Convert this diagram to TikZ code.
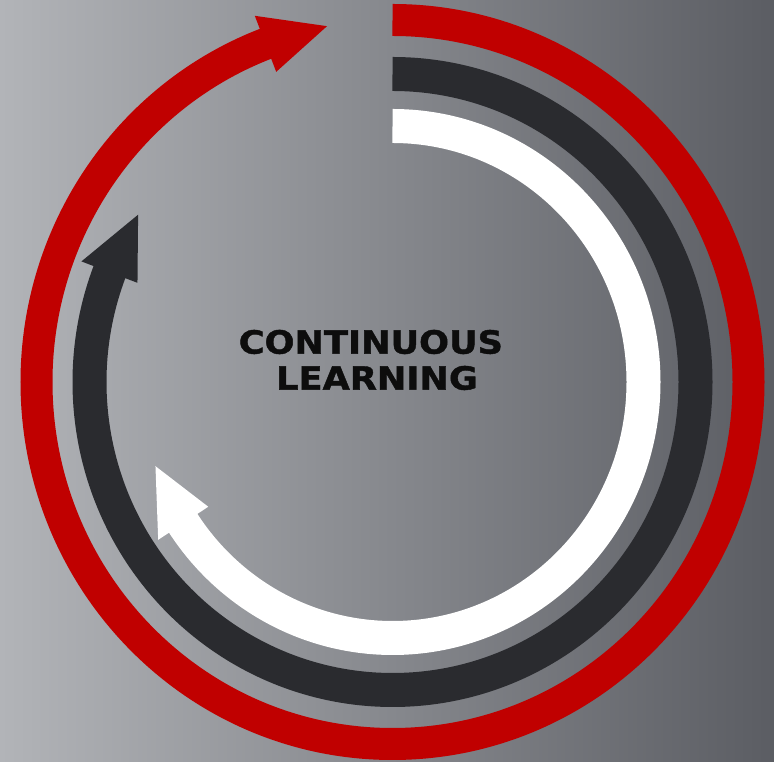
\documentclass[tikz,border=0pt]{standalone}
\usepackage{fontspec}
\setmainfont{DejaVu Sans}[BoldFeatures={FakeBold=1.2}]
\usetikzlibrary{calc}
\definecolor{ringred}{HTML}{C00000}
\definecolor{ringdark}{HTML}{2A2B2F}
\definecolor{bgleft}{HTML}{B2B4B8}
\definecolor{bgmid}{HTML}{8E9095}
\definecolor{bgright}{HTML}{5B5D63}
\def\ringarc[#1](#2)(#3:#4:#5:#6){\draw[#1] ($(#2)+({#5*cos(#3)},{#6*sin(#3)})$) arc[start angle=#3, end angle=#4, x radius=#5pt, y radius=#6pt];}
\def\ringhead[#1](#2)(#3:#4:#5:#6){\fill[#1] ($(#2)+({(#5+30)*cos(#3)},{(#6+30)*sin(#3)})$) -- ($(#2)+({#5*cos(#4)},{#6*sin(#4)})$) -- ($(#2)+({(#5-30)*cos(#3)},{(#6-30)*sin(#3)})$) -- cycle;}

\begin{document}
\begin{tikzpicture}[x=1pt, y=1pt]
			%%%%% START %%%%%
			
			\useasboundingbox (0, 0) rectangle (774, 762);
			\shade[left color=bgleft, middle color=bgmid, right color=bgright] (0, 0) rectangle (774, 762);
			
			\coordinate (C) at (392.5, 380);
			
			% outer ring
			\ringarc[line width=32pt, color=ringred](C)(90:-250:356:362);
			\ringhead[ringred](C)(-249.1:-259.4:356:362);
			
			% middle ring
			\ringarc[line width=34pt, color=ringdark](C)(90:-202:303:308);
			\ringhead[ringdark](C)(-200.9:-212.9:303:308);
			
			% inner ring
			\ringarc[line width=34pt, color=white](C)(90:-147.5:251:256);
			\ringhead[white](C)(-146.5:-160.8:251:256);
			
			\node[font=\bfseries\fontsize{32}{36}\selectfont, align=center, xscale=1.1, transform shape, text=black!95] (title) at (377, 402) {CONTINUOUS\hphantom{~}\\LEARNING};
			
			%%%%% END %%%%%
\end{tikzpicture}
\end{document}
